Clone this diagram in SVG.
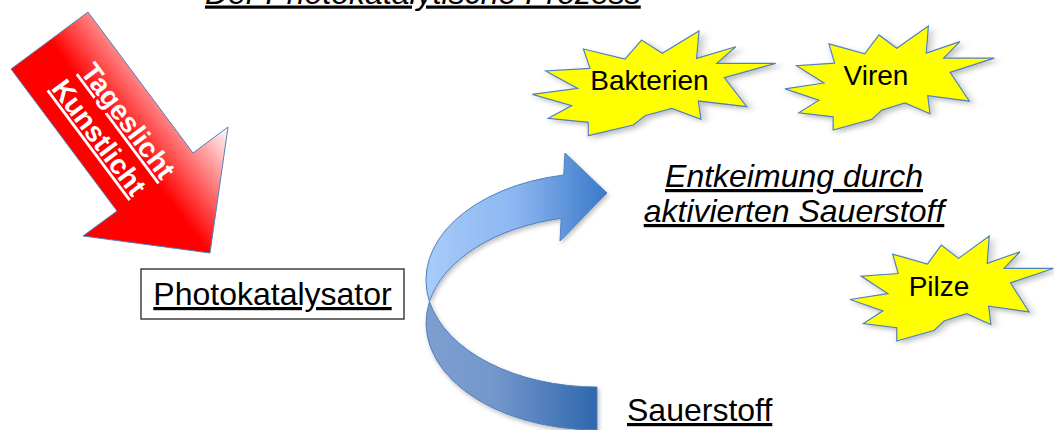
<svg xmlns="http://www.w3.org/2000/svg" xmlns:xlink="http://www.w3.org/1999/xlink" width="1054" height="430" viewBox="0 0 1054 430">
  <style>
    text { font-family: "Liberation Sans", Arial, sans-serif; fill: #000; text-decoration: underline; }
    .t32 { font-size: 32px; }
    .it { font-style: italic; }
    .star-label { font-size: 28px; text-decoration: none; }
    .light { font-size: 28px; font-weight: bold; fill: #fff; }
    .star { fill: #ffff00; stroke: #4f81bd; stroke-width: 1.2; stroke-linejoin: miter; }
    .edge { stroke: #4f81bd; stroke-width: 1; stroke-linejoin: round; }
    .box { fill: #fff; stroke: #404040; stroke-width: 1.5; }
  </style>
  <defs>
    <linearGradient id="redGrad" gradientUnits="userSpaceOnUse" x1="83" y1="236" x2="228" y2="127">
      <stop offset="0" stop-color="#ff0000"/>
      <stop offset="0.5" stop-color="#ff0000"/>
      <stop offset="0.78" stop-color="#ff8e8e"/>
      <stop offset="1" stop-color="#ffffff"/>
    </linearGradient>
    <linearGradient id="frontGrad" gradientUnits="userSpaceOnUse" x1="426" y1="0" x2="607" y2="0">
      <stop offset="0" stop-color="#a8cbfa"/>
      <stop offset="0.5" stop-color="#8ab6f0"/>
      <stop offset="1" stop-color="#3a78c8"/>
    </linearGradient>
    <linearGradient id="backGrad" gradientUnits="userSpaceOnUse" x1="426" y1="0" x2="598" y2="0">
      <stop offset="0" stop-color="#7e9ed0"/>
      <stop offset="0.4" stop-color="#7397cc"/>
      <stop offset="1" stop-color="#2e66ad"/>
    </linearGradient>
    <filter id="shadow" x="-10%" y="-10%" width="125%" height="130%">
      <feDropShadow dx="1.5" dy="2.5" stdDeviation="2" flood-color="#000" flood-opacity="0.25"/>
    </filter>
    <path id="seal" vector-effect="non-scaling-stroke" d="M0,60.5 L18.6,54.8 L5.5,38.2 L23.7,35.7 L21,17.2 L38.1,26.8 L44.9,8.6 L53.4,21.3 L68.5,0 L67.5,26.1 L83.6,15 L75.8,30.9 L100,30.9 L78.9,44.6 L88.1,72.3 L68.2,66.9 L69.3,84.4 L57.3,73.9 L46.3,80.9 L41.5,89.8 L23,100 L23,87.3 L6.6,83.4 L16.2,71.3 Z"/>
  </defs>

  <rect x="0" y="0" width="1054" height="430" fill="#ffffff"/>

  <g id="title">
    <text class="t32 it" x="205" y="3.5">Der Photokatalytische Prozess</text>
  </g>

  <g id="connectors">
    <g id="licht-pfeil">
      <polygon class="edge" fill="url(#redGrad)" points="11,69 88,12 193,153 228,127 210,253 83,236 117,211"/>
      <text class="light" text-anchor="middle" transform="translate(120.4,126.7) rotate(53.2)">Tageslicht</text>
      <text class="light" text-anchor="middle" transform="translate(91.4,143.2) rotate(53.2)">Kunstlicht</text>
    </g>
    <g id="sauerstoff-pfeil" filter="url(#shadow)">
      <path class="edge" fill="url(#backGrad)" d="M429.5,301.5 A171,107 0 0 0 597,430 L597,387 A171,107 0 0 1 429.5,301.5 Z"/>
      <path class="edge" fill="url(#frontGrad)" d="M429.5,301.5 A171,107 0 0 1 563.75,175 L565,153 L607,193 L560,241 L561.2,218.4 A171,107 0 0 0 429.5,301.5 Z"/>
    </g>
  </g>

  <g id="photokatalysator">
    <rect class="box" x="141" y="269" width="263" height="50"/>
    <text class="t32" x="272.5" y="305" text-anchor="middle">Photokatalysator</text>
  </g>

  <g id="bakterien">
    <use xlink:href="#seal" class="star" filter="url(#shadow)" transform="translate(532.3,31) scale(2.434,1.047)"/>
    <text class="star-label" x="649.5" y="90" text-anchor="middle">Bakterien</text>
  </g>

  <g id="viren">
    <use xlink:href="#seal" class="star" filter="url(#shadow)" transform="translate(785,26) scale(2.093,1.04)"/>
    <text class="star-label" x="876" y="85" text-anchor="middle">Viren</text>
  </g>

  <g id="pilze">
    <use xlink:href="#seal" class="star" filter="url(#shadow)" transform="translate(850,236) scale(2.033,1.05)"/>
    <text class="star-label" x="939" y="296" text-anchor="middle">Pilze</text>
  </g>

  <g id="entkeimung">
    <text class="t32 it" x="794" y="187" text-anchor="middle">Entkeimung durch</text>
    <text class="t32 it" x="794" y="222" text-anchor="middle">aktivierten Sauerstoff</text>
  </g>

  <g id="sauerstoff">
    <text class="t32" x="627" y="421">Sauerstoff</text>
  </g>
</svg>
